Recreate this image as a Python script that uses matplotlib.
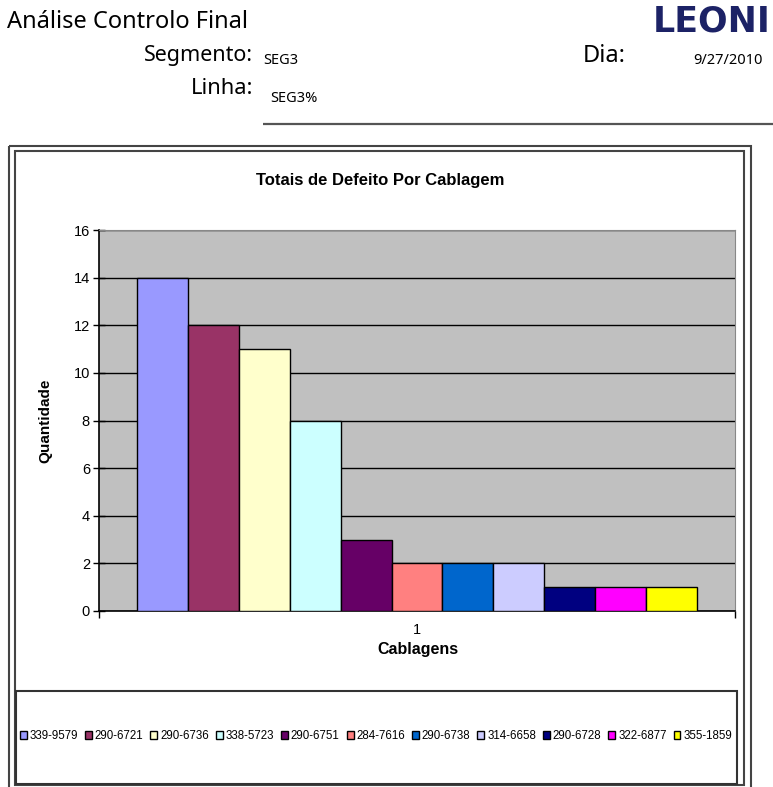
import matplotlib.pyplot as plt
import numpy as np
from matplotlib.patches import Rectangle

# defects per harness for the day
cablagens = ["339-9579", "290-6721", "290-6736", "338-5723", "290-6751", "284-7616",
             "290-6738", "314-6658", "290-6728", "322-6877", "355-1859"]
quantidade = [14, 12, 11, 8, 3, 2, 2, 2, 1, 1, 1]
cores = ["#9999FF", "#993366", "#FFFFCC", "#CCFFFF", "#660066", "#FF8080",
         "#0066CC", "#CCCCFF", "#000080", "#FF00FF", "#FFFF00"]
y_ticks = [0, 2, 4, 6, 8, 10, 12, 14, 16]

W, H = 773, 787
fig = plt.figure(figsize=(W / 100, H / 100), dpi=100)

# page overlay in pixel coordinates for header, frames and legend box
page = fig.add_axes([0, 0, 1, 1])
page.set_xlim(0, W)
page.set_ylim(H, 0)
page.axis("off")

hdr = dict(family="Noto Sans", color="black", va="center")
page.text(7, 22, "Análise Controlo Final", fontsize=17, **hdr)
page.text(253, 56, "Segmento:", fontsize=15.5, ha="right", **hdr)
page.text(263, 60, "SEG3", fontsize=10.5, **hdr)
page.text(253, 89, "Linha:", fontsize=15.8, ha="right", **hdr)
page.text(270, 99, "SEG3%", fontsize=10.5, **hdr)
page.text(583, 56, "Dia:", fontsize=17, **hdr)
page.text(693, 60, "9/27/2010", fontsize=10.5, **hdr)
page.text(771, 22, "LEONI", fontsize=25, va="center", ha="right", fontweight="bold",
          family="DejaVu Sans", color="#1c2266")
page.plot([263, W], [124, 124], color="#555555", lw=1.6, solid_capstyle="butt")

# chart frames
page.add_patch(Rectangle((9, 146), 742, 660, fill=False, ec="#444444", lw=1.5))
page.add_patch(Rectangle((15, 151), 729, 634, fill=False, ec="#444444", lw=1.5))
page.add_patch(Rectangle((16, 691), 721, 93, fill=False, ec="#333333", lw=1.5))

page.text(380, 181, "Totais de Defeito Por Cablagem", fontsize=12, fontweight="bold",
          family="Liberation Sans", ha="center", va="center")

# bar chart: one category with one bar per harness, Excel style gap of 150%
ax = fig.add_axes([99 / W, 1 - 611 / H, 636 / W, 381 / H])
ax.set_facecolor("#C0C0C0")
n = len(quantidade)
w = 1 / (n + 1.5)
xs = -0.5 + 0.75 * w + (np.arange(n) + 0.5) * w
bars = ax.bar(xs, quantidade, width=w, color=cores, edgecolor="black", lw=1.0,
              zorder=3)

ax.set_xlim(-0.5, 0.5)
ax.set_ylim(0, 16)
ax.set_yticks(y_ticks)
ax.yaxis.grid(True, color="black", lw=1.0, zorder=1)
ax.tick_params(axis="y", direction="inout", length=9, width=1, labelsize=10.5, pad=2)
for lbl in ax.get_yticklabels():
    lbl.set_family("Liberation Sans")

ax.set_xticks([-0.5, 0.5])
ax.set_xticklabels(["", ""])
ax.tick_params(axis="x", direction="out", length=5, width=1)
ax.set_xticks([0], minor=True)
ax.set_xticklabels(["1"], minor=True, family="Liberation Sans", fontsize=10.5)
ax.tick_params(axis="x", which="minor", length=0, pad=9)

for side in ["top", "right"]:
    ax.spines[side].set_color("#888888")
    ax.spines[side].set_linewidth(0.8)
for side in ["left", "bottom"]:
    ax.spines[side].set_color("black")
    ax.spines[side].set_linewidth(1.2)

ax.set_ylabel("Quantidade", fontsize=11, fontweight="bold", family="Liberation Sans")
ax.yaxis.set_label_coords(-47 / 636, 0.5)
ax.set_xlabel("Cablagens", fontsize=11.5, fontweight="bold", family="Liberation Sans")
ax.xaxis.set_label_coords(0.502, -31 / 381)

fig.legend(bars, cablagens, loc="center", bbox_to_anchor=(376 / W, 1 - 736 / H),
           ncol=n, frameon=False, handlelength=0.6, handleheight=0.6,
           handletextpad=0.25, columnspacing=0.6, borderaxespad=0,
           prop={"family": "Liberation Sans", "size": 8.3})

fig.savefig("out.png", dpi=100)
